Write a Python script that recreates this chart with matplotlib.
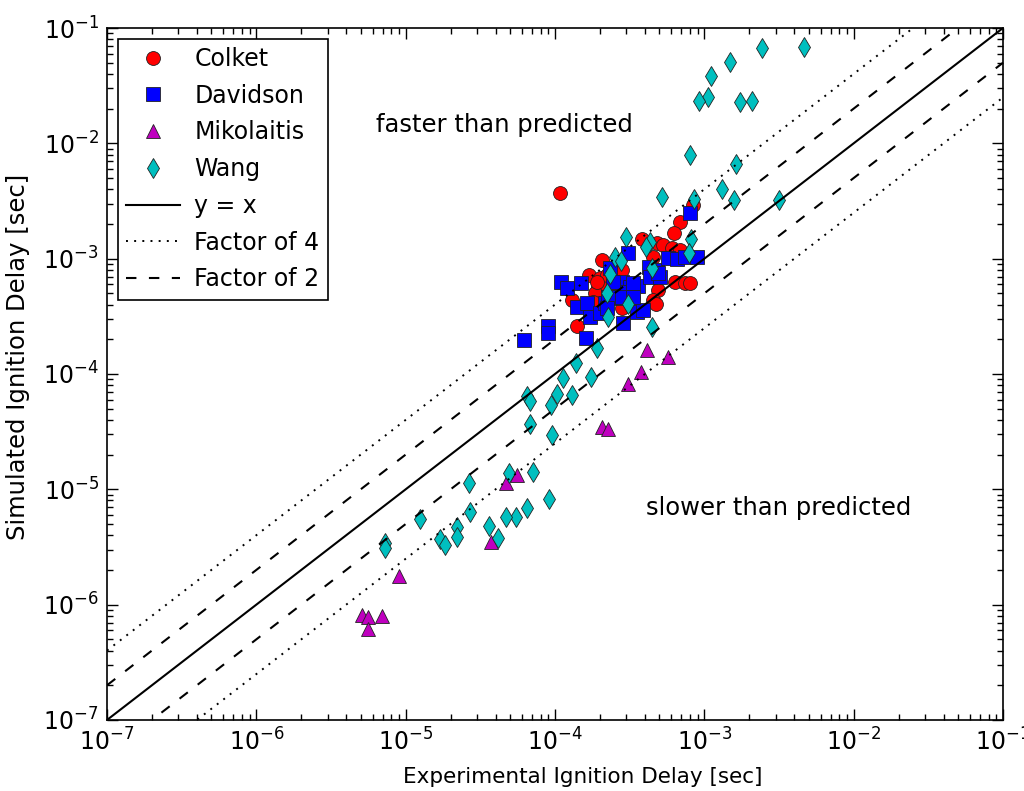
import numpy as np
import matplotlib

matplotlib.use("Agg")

import matplotlib.pyplot as plt
from matplotlib.ticker import LogLocator, NullFormatter

# experimental vs. simulated ignition delay times [sec]
colket_exp = [1.08e-4, 8.4e-4, 6.9e-4, 6.3e-4, 3.83e-4, 4.83e-4, 5.3e-4, 6.1e-4,
              6.9e-4, 4.54e-4, 2.06e-4, 2.81e-4, 1.69e-4, 2.00e-4, 1.95e-4, 2.10e-4,
              1.86e-4, 2.56e-4, 3.33e-4, 4.91e-4, 1.30e-4, 2.81e-4, 4.54e-4, 4.75e-4,
              6.4e-4, 7.4e-4, 8.0e-4, 1.41e-4, 2.23e-4, 1.80e-4, 1.91e-4]
colket_sim = [3.7e-3, 2.92e-3, 2.08e-3, 1.67e-3, 1.48e-3, 1.37e-3, 1.31e-3, 1.24e-3,
              1.19e-3, 1.03e-3, 9.7e-4, 8.0e-4, 7.2e-4, 6.8e-4, 5.7e-4, 5.7e-4,
              5.0e-4, 5.1e-4, 4.55e-4, 5.3e-4, 4.37e-4, 3.73e-4, 4.37e-4, 4.04e-4,
              6.3e-4, 6.1e-4, 6.1e-4, 2.60e-4, 7.2e-4, 4.2e-4, 6.3e-4]

davidson_exp = [8.0e-4, 3.09e-4, 1.10e-4, 1.20e-4, 1.50e-4, 1.41e-4, 1.64e-4, 1.72e-4,
                2.00e-4, 2.17e-4, 2.34e-4, 2.65e-4, 2.81e-4, 3.18e-4, 3.61e-4, 3.04e-4,
                3.55e-4, 3.89e-4, 2.86e-4, 4.27e-4, 4.83e-4, 4.34e-4, 5.06e-4, 5.73e-4,
                6.58e-4, 7.4e-4, 8.95e-4, 9.0e-5, 9.0e-5, 6.2e-5, 1.61e-4, 2.45e-4,
                3.33e-4, 2.73e-4, 2.27e-4, 2.23e-4, 4.91e-4, 3.33e-4]
davidson_sim = [2.48e-3, 1.12e-3, 6.3e-4, 5.6e-4, 6.1e-4, 3.80e-4, 4.12e-4, 3.11e-4,
                3.37e-4, 4.12e-4, 8.3e-4, 4.55e-4, 6.3e-4, 5.7e-4, 5.8e-4, 5.1e-4,
                3.44e-4, 3.58e-4, 2.76e-4, 8.5e-4, 8.0e-4, 6.9e-4, 6.9e-4, 1.01e-3,
                9.9e-4, 1.03e-3, 1.03e-3, 2.60e-4, 2.26e-4, 1.97e-4, 2.05e-4, 6.3e-4,
                6.1e-4, 4.65e-4, 4.65e-4, 3.73e-4, 7.5e-4, 4.65e-4]

mikolaitis_exp = [4.14e-4, 5.73e-4, 3.78e-4, 3.09e-4, 2.06e-4, 2.27e-4, 4.7e-5, 5.6e-5,
                  3.73e-5, 5.1e-6, 5.6e-6, 6.95e-6, 5.6e-6, 9.0e-6]
mikolaitis_sim = [1.61e-4, 1.40e-4, 1.04e-4, 8.2e-5, 3.46e-5, 3.33e-5, 1.13e-5, 1.33e-5,
                  3.48e-6, 8.1e-7, 7.8e-7, 7.9e-7, 6.1e-7, 1.77e-6]

wang_exp = [4.66e-3, 2.44e-3, 1.49e-3, 1.11e-3, 1.06e-3, 9.2e-4, 1.74e-3, 2.09e-3,
            1.63e-3, 1.31e-3, 1.58e-3, 3.17e-3, 8.0e-4, 5.2e-4, 8.5e-4, 8.2e-4, 7.9e-4,
            2.99e-4, 4.34e-4, 4.07e-4, 2.53e-4, 2.77e-4, 4.47e-4, 2.34e-4, 2.23e-4,
            3.09e-4, 2.27e-4, 4.47e-4, 1.91e-4,
            1.38e-4, 1.13e-4, 1.75e-4, 1.03e-4, 1.30e-4, 9.4e-5, 6.5e-5, 6.8e-5, 6.8e-5,
            9.6e-5, 4.93e-5, 7.1e-5, 2.66e-5, 9.1e-5, 2.70e-5, 6.5e-5, 5.5e-5, 4.7e-5,
            3.62e-5, 4.16e-5, 2.21e-5, 2.21e-5, 1.70e-5, 1.84e-5, 1.25e-5, 7.3e-6, 7.3e-6]
wang_sim = [6.9e-2, 6.7e-2, 5.07e-2, 3.83e-2, 2.52e-2, 2.33e-2, 2.28e-2, 2.33e-2,
            6.6e-3, 4.0e-3, 3.2e-3, 3.2e-3, 7.9e-3, 3.42e-3, 3.29e-3, 1.48e-3, 1.12e-3,
            1.54e-3, 1.39e-3, 1.26e-3, 1.03e-3, 9.5e-4, 8.3e-4, 7.3e-4, 5.0e-4,
            4.03e-4, 3.12e-4, 2.55e-4, 1.68e-4,
            1.24e-4, 9.2e-5, 9.4e-5, 6.7e-5, 6.6e-5, 5.4e-5, 6.4e-5, 5.8e-5, 3.68e-5,
            2.95e-5, 1.38e-5, 1.41e-5, 1.13e-5, 8.2e-6, 6.3e-6, 6.9e-6, 5.7e-6, 5.7e-6,
            4.8e-6, 3.78e-6, 4.7e-6, 3.86e-6, 3.70e-6, 3.28e-6, 5.5e-6, 3.41e-6, 3.09e-6]

lims = [1e-7, 1e-1]

fig = plt.figure(figsize=(10.24, 7.91), dpi=100)
ax = fig.add_axes([0.1045, 0.0898, 0.875, 0.8748])

mk = dict(linestyle="none", markersize=10, markeredgecolor="#222222", markeredgewidth=0.6)
ax.plot(colket_exp, colket_sim, "o", color="r", label="Colket", **mk)
ax.plot(davidson_exp, davidson_sim, "s", color="b", label="Davidson", **mk)
ax.plot(mikolaitis_exp, mikolaitis_sim, "^", color="#bf00bf", label="Mikolaitis", **mk)
ax.plot(wang_exp, wang_sim, "d", color="#00bfbf", label="Wang", **mk)

ref = np.array(lims)
ax.plot(ref, ref, "k-", lw=1.5, label="y = x")
ax.plot(ref, 4 * ref, color="k", lw=1.4, ls=(0, (1, 3.2)), label="Factor of 4")
ax.plot(ref, ref / 4, color="k", lw=1.4, ls=(0, (1, 3.2)))
ax.plot(ref, 2 * ref, color="k", lw=1.5, ls=(0, (5, 6)), label="Factor of 2")
ax.plot(ref, ref / 2, color="k", lw=1.5, ls=(0, (5, 6)))

ax.set_xscale("log")
ax.set_yscale("log")
ax.set_xlim(lims)
ax.set_ylim(lims)

for axis in (ax.xaxis, ax.yaxis):
    axis.set_major_locator(LogLocator(base=10, numticks=10))
    axis.set_minor_locator(LogLocator(base=10, subs=np.arange(2, 10), numticks=100))
    axis.set_minor_formatter(NullFormatter())
ax.tick_params(which="both", direction="in", top=True, right=True, width=1)
ax.tick_params(which="major", length=8, labelsize=17, pad=6)
ax.tick_params(which="minor", length=4)
for sp in ax.spines.values():
    sp.set_linewidth(1.2)

ax.set_xlabel("Experimental Ignition Delay [sec]", fontsize=15.5)
ax.set_ylabel("Simulated Ignition Delay [sec]", fontsize=17.5)
ax.xaxis.set_label_coords(0.531, -0.068)
ax.yaxis.set_label_coords(-0.086, 0.525)

ax.text(4.6e-5, 1.44e-2, "faster than predicted", fontsize=17.5, ha="center", va="center")
ax.text(3.17e-3, 6.9e-6, "slower than predicted", fontsize=17.5, ha="center", va="center")

leg = ax.legend(loc="upper left", numpoints=1, fontsize=17, fancybox=False,
                edgecolor="k", framealpha=1, handlelength=2.3, labelspacing=0.54,
                borderaxespad=0.45, borderpad=0.35, handletextpad=0.6)
leg.get_frame().set_linewidth(1.2)

fig.savefig("out.png", dpi=100, facecolor="white")
